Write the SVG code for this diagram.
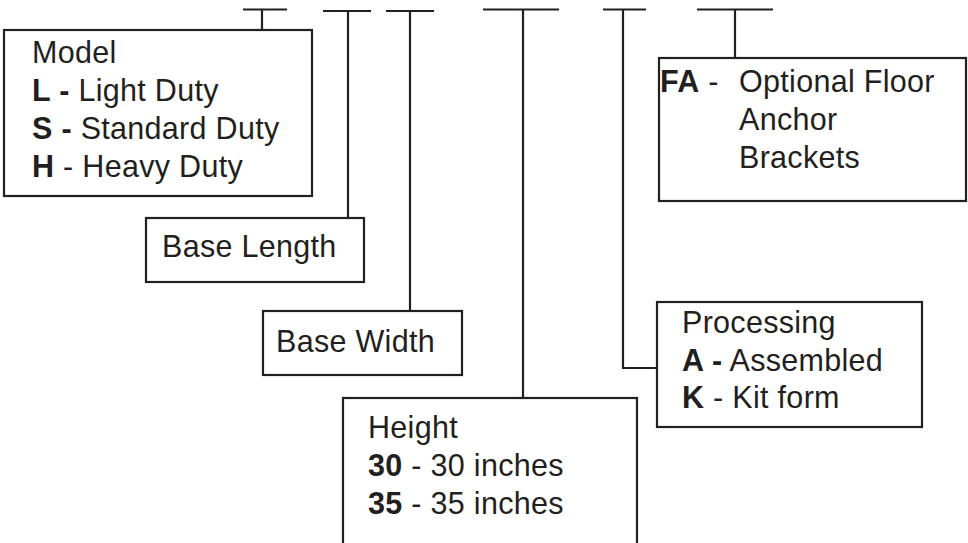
<svg xmlns="http://www.w3.org/2000/svg" width="968" height="543" viewBox="0 0 968 543">
<style>
.box{fill:#fff;stroke:#231f20;stroke-width:2.2}
.ln{fill:none;stroke:#231f20;stroke-width:2.2}
text{font-family:"Liberation Sans",Arial,Helvetica,sans-serif;font-size:30.5px;letter-spacing:0.3px;fill:#231f20}
.b{font-weight:bold}
</style>
<rect width="968" height="543" fill="#fff"/>
<g id="connectors">
<path class="ln" d="M243 9.5H287M262 9.5V30"/>
<path class="ln" d="M323 11H371M348 11V218"/>
<path class="ln" d="M386 11H434M410 11V311"/>
<path class="ln" d="M483 9.5H559M523 9.5V398"/>
<path class="ln" d="M603 9.5H646M623 9.5V368H657"/>
<path class="ln" d="M697 9.5H773M735 9.5V58"/>
</g>
<g id="model">
<rect class="box" x="4" y="30" width="308" height="166"/>
<text x="32" y="63">Model</text>
<text x="32" y="101"><tspan class="b">L -</tspan> Light Duty</text>
<text x="32" y="139"><tspan class="b">S -</tspan> Standard Duty</text>
<text x="32" y="177"><tspan class="b">H</tspan> - Heavy Duty</text>
</g>
<g id="base-length">
<rect class="box" x="146" y="218" width="218" height="64"/>
<text x="162" y="257">Base Length</text>
</g>
<g id="base-width">
<rect class="box" x="263" y="311" width="199" height="64"/>
<text x="276" y="352">Base Width</text>
</g>
<g id="height">
<rect class="box" x="343" y="398" width="294" height="160"/>
<text x="368" y="438">Height</text>
<text x="368" y="476"><tspan class="b">30</tspan> - 30 inches</text>
<text x="368" y="514"><tspan class="b">35</tspan> - 35 inches</text>
</g>
<g id="processing">
<rect class="box" x="657" y="302" width="265" height="125"/>
<text x="682" y="333">Processing</text>
<text x="682" y="371"><tspan class="b">A -</tspan> Assembled</text>
<text x="682" y="408"><tspan class="b">K</tspan> - Kit form</text>
</g>
<g id="floor-anchor">
<rect class="box" x="659" y="58" width="307" height="143"/>
<text x="660" y="92"><tspan class="b">FA</tspan> - </text>
<text x="739" y="92">Optional Floor</text>
<text x="739" y="130">Anchor</text>
<text x="739" y="168">Brackets</text>
</g>
</svg>
